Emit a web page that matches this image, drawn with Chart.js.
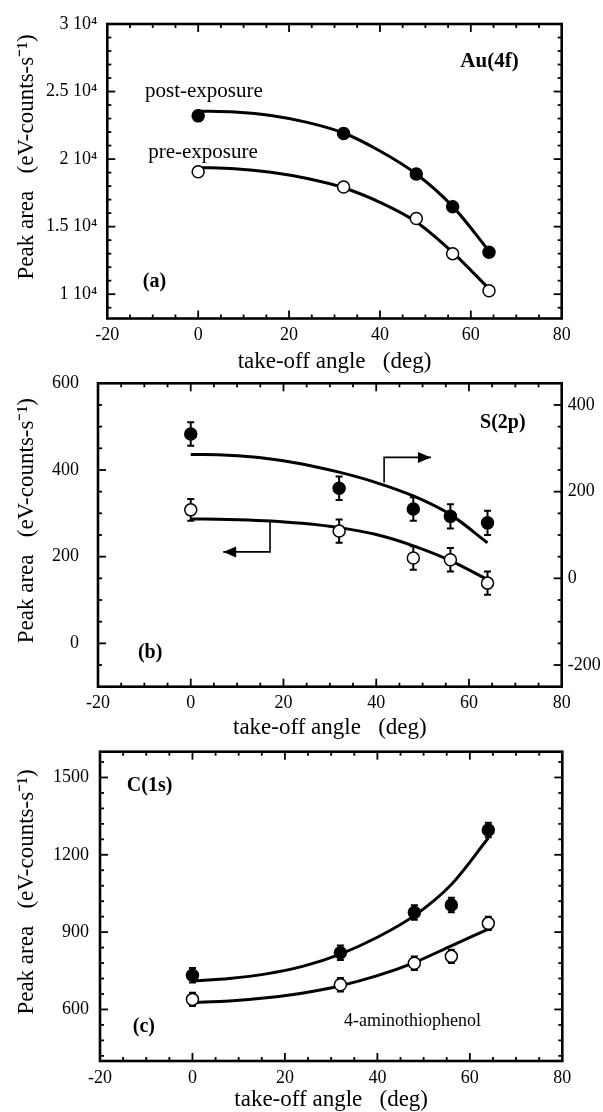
<!DOCTYPE html>
<html>
<head>
<meta charset="utf-8">
<script src="https://cdn.jsdelivr.net/npm/chart.js@4.4.0/dist/chart.umd.min.js"></script>
<style>
    html, body { margin: 0; padding: 0; background: #fff; }
    body { width: 603px; height: 1112px; position: relative; overflow: hidden; }
    canvas { position: absolute; left: 0; }
</style>
</head>
<body>
<canvas id="chartA" width="603" height="376" style="top:0px"></canvas>
<canvas id="chartB" width="603" height="370" style="top:372px"></canvas>
<canvas id="chartC" width="603" height="372" style="top:742px"></canvas>
<script>
// take-off angles of the measured points and of the sampled fit curves
const angles = [0, 32, 48, 56, 64];
const fitAngles = [0, 8, 16, 24, 32, 40, 48, 56, 64];
const xTicks = [-20, 0, 20, 40, 60, 80];

// (a) Au(4f)
const auPost = [23200, 21900, 18900, 16470, 13100];
const auPre = [19060, 17930, 15600, 13000, 10250];
const auPostFit = [23560, 23480, 23230, 22720, 21930, 20600, 18900, 16500, 13200];
const auPreFit = [19380, 19290, 19020, 18560, 17880, 16800, 15350, 13100, 10400];
const auTicks = [10000, 15000, 20000, 25000, 30000];

// (b) S(2p) - filled points read on the right axis, open points on the left axis
const sPost = [333, 208, 160, 143, 128];
const sPostErr = [27, 27, 27, 28, 28];
const sPre = [308, 259, 197, 193, 139];
const sPreErr = [25, 27, 27, 27, 27];
const sPostFit = [286, 284, 277, 264, 245, 221, 190, 147, 82];
const sPreFit = [287, 286, 283, 277, 267, 251, 225, 191, 147];
const sLeftTicks = [0, 200, 400, 600];
const sRightTicks = [-200, 0, 200, 400];

// (c) C(1s)
const cPost = [733, 820, 976, 1005, 1296];
const cPostErr = [28, 28, 28, 28, 28];
const cPre = [639, 696, 779, 806, 934];
const cPreErr = [26, 26, 26, 26, 26];
const cPostFit = [711, 720, 738, 768, 815, 880, 964, 1085, 1265];
const cPreFit = [627, 633, 645, 664, 692, 731, 782, 847, 912];
const cTicks = [600, 900, 1200, 1500];

const FONT = "'Liberation Serif', 'Times New Roman', serif";
const tickFont = { family: FONT, size: 18 };
const titleFont = { family: FONT, size: 23 };

const pts = (xs, ys) => xs.map((x, i) => ({ x: x, y: ys[i] }));

// box + inward ticks on all four sides
const framePlugin = {
    id: 'frame',
    afterDraw(chart, args, opts) {
        const { ctx, chartArea: a, scales } = chart;
        ctx.save();
        ctx.strokeStyle = '#000';
        ctx.lineWidth = 1.8;
        const seg = (x1, y1, x2, y2) => { ctx.beginPath(); ctx.moveTo(x1, y1); ctx.lineTo(x2, y2); ctx.stroke(); };
        const each = (scale, step, major, fn) => {
            let v = Math.ceil(scale.min / step - 1e-9) * step;
            for (; v <= scale.max + 1e-9; v += step) {
                if (Math.abs(v - scale.min) < 1e-6 || Math.abs(v - scale.max) < 1e-6) continue;
                const isMajor = major.some(m => Math.abs(m - v) < 1e-6);
                fn(scale.getPixelForValue(v), isMajor ? 8 : 4);
            }
        };
        each(scales.x, opts.xMinor, xTicks, (p, len) => {
            seg(p, a.bottom, p, a.bottom - len);
            seg(p, a.top, p, a.top + len);
        });
        each(scales.y, opts.yMinor, opts.yMajor, (p, len) => {
            seg(a.left, p, a.left + len, p);
            if (!scales.y2) seg(a.right, p, a.right - len, p);
        });
        if (scales.y2) {
            each(scales.y2, opts.y2Minor, opts.y2Major, (p, len) => seg(a.right, p, a.right - len, p));
        }
        ctx.lineWidth = 2.6;
        ctx.strokeRect(a.left, a.top, a.right - a.left, a.bottom - a.top);
        ctx.restore();
    }
};

// vertical error bars, drawn under the markers
const errorBarPlugin = {
    id: 'errorBars',
    beforeDatasetsDraw(chart) {
        const { ctx, scales } = chart;
        ctx.save();
        ctx.strokeStyle = '#000';
        ctx.lineWidth = 2;
        chart.data.datasets.forEach(ds => {
            if (!ds.errors) return;
            const ys = scales[ds.yAxisID || 'y'];
            ds.data.forEach((d, i) => {
                const px = scales.x.getPixelForValue(d.x);
                const top = ys.getPixelForValue(d.y + ds.errors[i]);
                const bot = ys.getPixelForValue(d.y - ds.errors[i]);
                ctx.beginPath();
                ctx.moveTo(px, top); ctx.lineTo(px, bot);
                ctx.moveTo(px - 3.5, top); ctx.lineTo(px + 3.5, top);
                ctx.moveTo(px - 3.5, bot); ctx.lineTo(px + 3.5, bot);
                ctx.stroke();
            });
        });
        ctx.restore();
    }
};

// text labels and arrows, placed in data coordinates
const notesPlugin = {
    id: 'notes',
    afterDraw(chart, args, opts) {
        const { ctx, scales } = chart;
        const X = v => scales.x.getPixelForValue(v);
        const Y = v => scales.y.getPixelForValue(v);
        ctx.save();
        ctx.fillStyle = '#000';
        ctx.strokeStyle = '#000';
        ctx.textBaseline = 'middle';
        (opts.labels || []).forEach(l => {
            ctx.font = (l.bold ? 'bold ' : '') + l.size + 'px ' + FONT;
            ctx.textAlign = 'left';
            ctx.fillText(l.text, X(l.x), Y(l.y));
        });
        (opts.arrows || []).forEach(ar => {
            const p = ar.map(q => [X(q[0]), Y(q[1])]);
            ctx.lineWidth = 1.6;
            ctx.beginPath();
            ctx.moveTo(p[0][0], p[0][1]);
            for (let i = 1; i < p.length; i++) ctx.lineTo(p[i][0], p[i][1]);
            ctx.stroke();
            const [tx, ty] = p[p.length - 1];
            const [fx, fy] = p[p.length - 2];
            const ang = Math.atan2(ty - fy, tx - fx);
            ctx.beginPath();
            ctx.moveTo(tx, ty);
            ctx.lineTo(tx - 13 * Math.cos(ang) + 5.5 * Math.sin(ang), ty - 13 * Math.sin(ang) - 5.5 * Math.cos(ang));
            ctx.lineTo(tx - 13 * Math.cos(ang) - 5.5 * Math.sin(ang), ty - 13 * Math.sin(ang) + 5.5 * Math.cos(ang));
            ctx.closePath();
            ctx.fill();
        });
        ctx.restore();
    }
};

function pointSet(xs, ys, errs, filled, axis) {
    return {
        data: pts(xs, ys), errors: errs, yAxisID: axis, showLine: false, order: 1,
        pointRadius: 6, pointBorderWidth: 1.5, pointBorderColor: '#000',
        pointBackgroundColor: filled ? '#000' : '#fff'
    };
}

function fitSet(ys, axis) {
    return {
        data: pts(fitAngles, ys), yAxisID: axis, order: 2,
        pointRadius: 0, borderColor: '#000', borderWidth: 3,
        cubicInterpolationMode: 'monotone', fill: false
    };
}

function yAxis(o) {
    return {
        type: 'linear', position: o.position, min: o.min, max: o.max,
        afterBuildTicks: s => { s.ticks = o.ticks.map(v => ({ value: v })); },
        afterFit: s => { s.width = o.width; s.paddingTop = 0; s.paddingBottom = 0; },
        grid: { display: false, drawTicks: false }, border: { display: false },
        ticks: { padding: o.pad, font: tickFont, color: '#000', callback: o.fmt || (v => v) },
        title: {
            display: !!o.title, text: o.title, font: titleFont, color: '#000',
            padding: { top: 13.2, bottom: 0 }
        }
    };
}

function makePanel(id, p) {
    const scales = {
        x: {
            type: 'linear', min: -20, max: 80,
            afterBuildTicks: s => { s.ticks = xTicks.map(v => ({ value: v })); },
            afterFit: s => { s.height = p.bottomGap; s.paddingLeft = 0; s.paddingRight = 0; },
            grid: { display: false, drawTicks: false }, border: { display: false },
            ticks: { padding: 6, font: tickFont, color: '#000', autoSkip: false, maxRotation: 0 },
            title: { display: true, text: 'take-off angle   (deg)', font: titleFont, color: '#000', padding: { top: 0, bottom: 0 } }
        },
        y: yAxis(p.y)
    };
    if (p.y2) scales.y2 = yAxis(p.y2);
    return new Chart(document.getElementById(id), {
        type: 'line',
        data: { datasets: p.datasets },
        options: {
            responsive: false, animation: false, devicePixelRatio: 1, events: [],
            layout: { padding: { top: p.top, right: p.right, left: 0, bottom: 0 } },
            plugins: {
                legend: { display: false }, tooltip: { enabled: false },
                frame: p.frame, notes: p.notes
            },
            scales: scales
        },
        plugins: [errorBarPlugin, framePlugin, notesPlugin]
    });
}

// leading spaces push the rotated title a little up the axis, as in the original
const yTitle = '     Peak area   (eV-counts-s\u207B\u00B9)';

makePanel('chartA', {
    top: 24, right: 41.3, bottomGap: 57.5,
    y: { position: 'left', min: 8200, max: 30000, ticks: auTicks, width: 107.3, pad: 10,
         fmt: v => (v / 10000) + ' 10\u2074', title: yTitle },
    frame: { xMinor: 5, yMinor: 1000, yMajor: auTicks },
    notes: {
        labels: [
            { text: 'post-exposure', x: -11.7, y: 25000, size: 21 },
            { text: 'pre-exposure', x: -11.0, y: 20500, size: 21 },
            { text: 'Au(4f)', x: 57.7, y: 27200, size: 21, bold: true },
            { text: '(a)', x: -12.2, y: 10900, size: 20, bold: true }
        ]
    },
    datasets: [
        pointSet(angles, auPost, null, true, 'y'),
        pointSet(angles, auPre, null, false, 'y'),
        fitSet(auPostFit, 'y'),
        fitSet(auPreFit, 'y')
    ]
});

makePanel('chartB', {
    top: 11.3, right: 0, bottomGap: 55.3,
    y: { position: 'left', min: -100, max: 600, ticks: sLeftTicks, width: 98, pad: 19, title: yTitle },
    y2: { position: 'right', min: -250, max: 450, ticks: sRightTicks, width: 41.3, pad: 6 },
    frame: { xMinor: 5, yMinor: 50, yMajor: sLeftTicks, y2Minor: 50, y2Major: sRightTicks },
    notes: {
        labels: [
            { text: 'S(2p)', x: 62.4, y: 508, size: 20, bold: true },
            { text: '(b)', x: -11.4, y: -21, size: 20, bold: true }
        ],
        arrows: [
            [[17.1, 285], [17.1, 211], [7.0, 211]],
            [[41.7, 371], [41.7, 429], [51.8, 429]]
        ]
    },
    datasets: [
        pointSet(angles, sPost, sPostErr, true, 'y2'),
        pointSet(angles, sPre, sPreErr, false, 'y'),
        fitSet(sPostFit, 'y2'),
        fitSet(sPreFit, 'y')
    ]
});

makePanel('chartC', {
    top: 9.7, right: 40.7, bottomGap: 53,
    y: { position: 'left', min: 400, max: 1600, ticks: cTicks, width: 100, pad: 11, title: yTitle },
    frame: { xMinor: 5, yMinor: 60, yMajor: cTicks },
    notes: {
        labels: [
            { text: 'C(1s)', x: -14.2, y: 1468, size: 20, bold: true },
            { text: '(c)', x: -12.9, y: 533, size: 20, bold: true },
            { text: '4-aminothiophenol', x: 32.8, y: 556, size: 18 }
        ]
    },
    datasets: [
        pointSet(angles, cPost, cPostErr, true, 'y'),
        pointSet(angles, cPre, cPreErr, false, 'y'),
        fitSet(cPostFit, 'y'),
        fitSet(cPreFit, 'y')
    ]
});
</script>
</body>
</html>
